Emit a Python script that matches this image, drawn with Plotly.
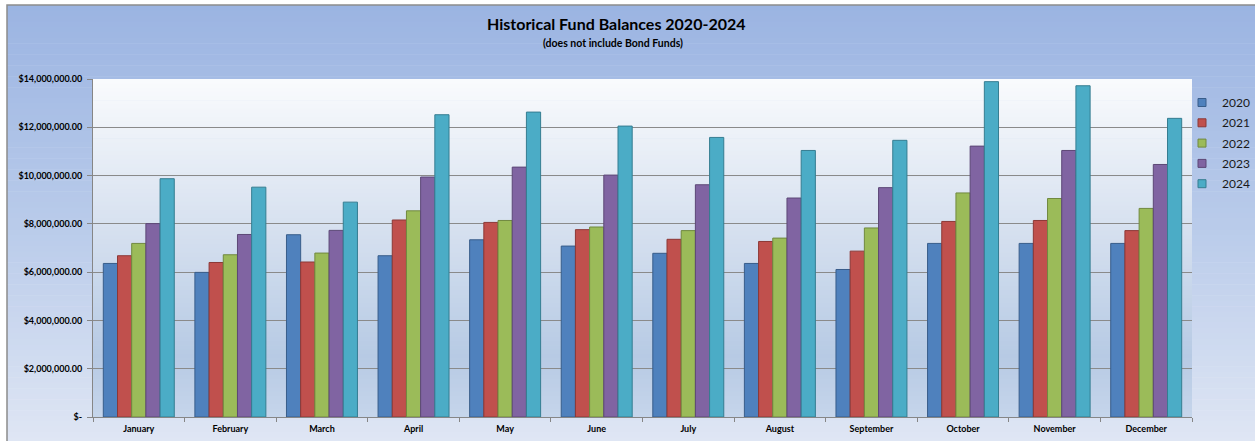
import plotly.graph_objects as go

months = ["January", "February", "March", "April", "May", "June",
          "July", "August", "September", "October", "November", "December"]

years = ["2020", "2021", "2022", "2023", "2024"]

bal_2020 = [6360000, 5990000, 7550000, 6680000, 7340000, 7080000,
            6780000, 6360000, 6110000, 7190000, 7190000, 7190000]
bal_2021 = [6680000, 6400000, 6420000, 8160000, 8060000, 7760000,
            7360000, 7270000, 6870000, 8100000, 8140000, 7720000]
bal_2022 = [7190000, 6720000, 6790000, 8540000, 8140000, 7870000,
            7720000, 7410000, 7830000, 9280000, 9050000, 8640000]
bal_2023 = [8010000, 7560000, 7730000, 9940000, 10350000, 10020000,
            9620000, 9070000, 9500000, 11220000, 11040000, 10460000]
bal_2024 = [9870000, 9520000, 8900000, 12520000, 12630000, 12050000,
            11580000, 11040000, 11460000, 13890000, 13720000, 12370000]

tick_vals = [0, 2000000, 4000000, 6000000, 8000000, 10000000, 12000000, 14000000]
tick_text = ["$-", "$2,000,000.00", "$4,000,000.00", "$6,000,000.00",
             "$8,000,000.00", "$10,000,000.00", "$12,000,000.00", "$14,000,000.00"]

series = [bal_2020, bal_2021, bal_2022, bal_2023, bal_2024]
fills = ["#4f81bd", "#c0504d", "#9bbb59", "#8064a2", "#4bacc6"]
edges = ["#385d8a", "#8c3836", "#71893f", "#5c4776", "#357d91"]

W, H = 1255, 441
L, R, T, B = 93, 63, 79, 24
pw, ph = W - L - R, H - T - B


def px_x(x):
    return (x - L) / pw


def px_y(y):
    return (H - B - y) / ph


def mix(stops, t):
    # stops: list of (pos, (r,g,b)) sorted by pos
    for (p0, c0), (p1, c1) in zip(stops, stops[1:]):
        if p0 <= t <= p1:
            f = (t - p0) / (p1 - p0) if p1 > p0 else 0
            c = [round(a + (b - a) * f) for a, b in zip(c0, c1)]
            return "rgb(%d,%d,%d)" % tuple(c)
    return "rgb(%d,%d,%d)" % stops[-1][1]


shapes = []

# outer chart frame gradient (top -> bottom)
frame_stops = [(0.0, (155, 180, 226)), (0.5, (185, 203, 234)), (1.0, (223, 230, 244))]
n = 80
y_top, y_bot = 5, H + 2
for i in range(n):
    a = y_top + (y_bot - y_top) * i / n
    b = y_top + (y_bot - y_top) * (i + 1) / n
    shapes.append(dict(type="rect", xref="paper", yref="paper", layer="below",
                       x0=px_x(7), x1=px_x(W + 2), y0=px_y(b + 0.5), y1=px_y(a),
                       fillcolor=mix(frame_stops, (i + 0.5) / n), line_width=0))
shapes.append(dict(type="rect", xref="paper", yref="paper", layer="below",
                   x0=px_x(7), x1=px_x(W + 5), y0=px_y(H + 5), y1=px_y(5),
                   fillcolor="rgba(0,0,0,0)", line=dict(color="#8c8c8c", width=1.5)))

# plot area gradient
plot_stops = [(0.0, (250, 251, 253)), (0.82, (183, 202, 228)), (1.0, (197, 213, 235))]
for i in range(n):
    a = i / n
    b = (i + 1) / n
    shapes.append(dict(type="rect", xref="paper", yref="paper", layer="below",
                       x0=0, x1=1, y0=1 - b - 0.002, y1=1 - a,
                       fillcolor=mix(plot_stops, (i + 0.5) / n), line_width=0))

fig = go.Figure()
for yr, vals, fc, ec in zip(years, series, fills, edges):
    fig.add_trace(go.Bar(
        name=yr, x=months, y=vals, showlegend=False,
        marker=dict(color=fc, line=dict(color=ec, width=1)),
    ))
# legend keys: small squares like the original
for yr, fc, ec in zip(years, fills, edges):
    fig.add_trace(go.Scatter(
        name=yr, x=[months[0]], y=[None], mode="markers", legendgroup=yr,
        marker=dict(symbol="square", size=8, color=fc, line=dict(color=ec, width=1)),
        hoverinfo="skip",
    ))

font_family = "Lato, 'Open Sans', sans-serif"

fig.update_layout(
    width=W, height=H,
    margin=dict(l=L, r=R, t=T, b=B, autoexpand=False),
    paper_bgcolor="white",
    plot_bgcolor="rgba(0,0,0,0)",
    barmode="group",
    bargap=0.225,
    bargroupgap=0,
    shapes=shapes,
    font=dict(family=font_family, color="black"),
    showlegend=True,
    legend=dict(
        x=px_x(1182), y=px_y(88), xanchor="left", yanchor="top",
        bgcolor="rgba(0,0,0,0)", font=dict(size=12, color="#1a1a1a"),
        tracegroupgap=1.3, itemwidth=30,
    ),
    annotations=[
        dict(text="<b>Historical Fund Balances 2020-2024</b>", xref="paper", yref="paper",
             x=px_x(616), y=px_y(23), xanchor="center", yanchor="middle",
             showarrow=False, font=dict(size=16, family=font_family, color="black")),
        dict(text="<b>(does not include Bond Funds)</b>", xref="paper", yref="paper",
             x=px_x(613), y=px_y(43), xanchor="center", yanchor="middle",
             showarrow=False, font=dict(size=10.5, family=font_family, color="black")),
    ],
)

fig.update_xaxes(
    range=[-0.5, len(months) - 0.5],
    showgrid=False, showline=True, linecolor="#868686", linewidth=1,
    ticks="outside", tickson="boundaries", ticklen=4, tickcolor="#868686",
    ticklabelstandoff=3,
    tickfont=dict(size=9, family=font_family, weight="bold"),
)
fig.update_yaxes(
    range=[0, 14000000], tickvals=tick_vals, ticktext=tick_text,
    showgrid=True, gridcolor="#8a8a8a", gridwidth=1,
    showline=True, linecolor="#868686", linewidth=1,
    ticks="outside", ticklen=5, tickcolor="#868686",
    ticklabelstandoff=3,
    tickfont=dict(size=9, family=font_family, weight="bold"),
    zeroline=False,
)

# drop the browser's default body margin so the figure sits at the window corner
fig.write_html("out.html",
               config={"displayModeBar": False},
               post_script="document.body.style.margin='0';"
                           "document.documentElement.style.overflow='hidden';")
